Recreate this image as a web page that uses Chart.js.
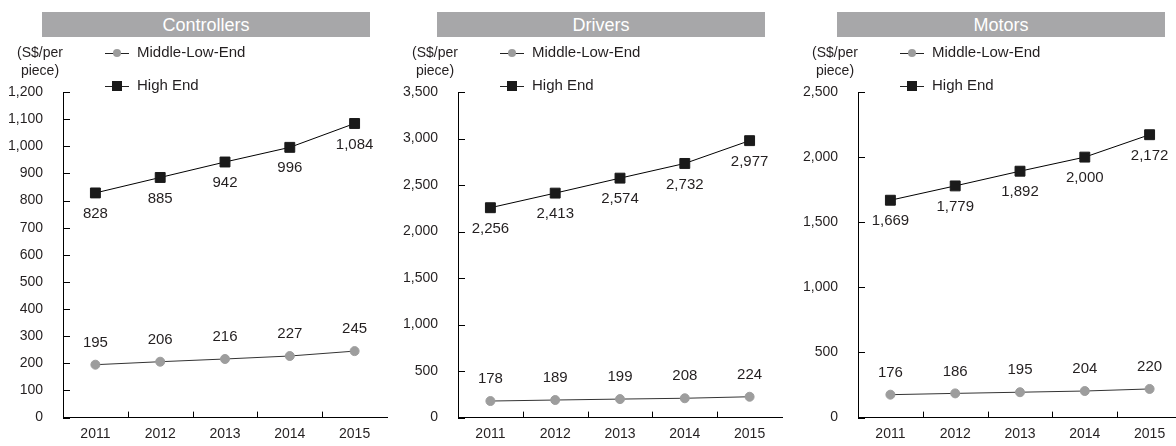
<!DOCTYPE html>
<html>
<head>
<meta charset="utf-8">
<script src="https://cdn.jsdelivr.net/npm/chart.js@4"></script>
<style>
  body { margin: 0; width: 1176px; height: 446px; overflow: hidden; background: #fff; position: relative;
         font-family: "Liberation Sans", Arial, sans-serif; color: #231f20; }
  .panel { position: absolute; top: 0; width: 395px; height: 446px; }
  .panel canvas { position: absolute; left: 0; top: 0; }
  .bar { position: absolute; left: 42px; top: 12px; width: 328px; height: 25px; background: #a7a7a9;
         color: #fff; font-size: 18px; line-height: 26px; text-align: center; }
  .unit { position: absolute; left: 8px; top: 43px; width: 64px; text-align: center; font-size: 14px; line-height: 18px; }
  .leg { position: absolute; left: 105px; font-size: 15px; line-height: 18px; white-space: nowrap; }
  .leg .sw { display: inline-block; position: relative; width: 24px; height: 1px; background: #222;
             vertical-align: middle; margin-right: 8px; }
  .leg .sw i { position: absolute; left: 8px; top: -4px; width: 8px; height: 8px; }
  .leg .mid i { background: #9d9d9d; border-radius: 50%; }
  .leg .high i { left: 7px; top: -5px; width: 10px; height: 10px; background: #1a1a1a; }
</style>
</head>
<body>
<script>
const years = ['2011', '2012', '2013', '2014', '2015'];
const seriesNames = ['Middle-Low-End', 'High End'];

const controllersMid = [195, 206, 216, 227, 245];
const controllersHigh = [828, 885, 942, 996, 1084];
const driversMid = [178, 189, 199, 208, 224];
const driversHigh = [2256, 2413, 2574, 2732, 2977];
const motorsMid = [176, 186, 195, 204, 220];
const motorsHigh = [1669, 1779, 1892, 2000, 2172];

const titles = ['Controllers', 'Drivers', 'Motors'];
const midSeries = [controllersMid, driversMid, motorsMid];
const highSeries = [controllersHigh, driversHigh, motorsHigh];
const yMax = [1200, 3500, 2500];
const yStep = [100, 500, 500];
const panelLeft = [0, 395, 795];

// inward tick marks + value labels
const extras = {
  id: 'extras',
  afterDatasetsDraw(chart) {
    const ctx = chart.ctx;
    const xs = chart.scales.x, ys = chart.scales.y;
    ctx.save();
    ctx.strokeStyle = '#000';
    ctx.lineWidth = 1;
    ctx.beginPath();
    ys.ticks.forEach(t => {
      const py = Math.round(ys.getPixelForValue(t.value)) + 0.5;
      ctx.moveTo(xs.left, py);
      ctx.lineTo(xs.left + 7, py);
    });
    for (let i = 1; i < years.length; i++) {
      const px = Math.round((xs.getPixelForValue(i - 1) + xs.getPixelForValue(i)) / 2) + 0.5;
      ctx.moveTo(px, ys.bottom);
      ctx.lineTo(px, ys.bottom - 6);
    }
    ctx.stroke();

    ctx.font = '15px "Liberation Sans", Arial, sans-serif';
    ctx.fillStyle = '#231f20';
    ctx.textAlign = 'center';
    ctx.textBaseline = 'middle';
    chart.data.datasets.forEach((ds, di) => {
      chart.getDatasetMeta(di).data.forEach((pt, i) => {
        const off = di === 0 ? -22 : 21;
        ctx.fillText(ds.data[i].toLocaleString('en-US'), pt.x, pt.y + off);
      });
    });
    ctx.restore();
  }
};

titles.forEach((title, p) => {
  const div = document.createElement('div');
  div.className = 'panel';
  div.style.left = panelLeft[p] + 'px';
  div.innerHTML =
    '<canvas width="395" height="446"></canvas>' +
    '<div class="bar">' + title + '</div>' +
    '<div class="unit">(S$/per<br>piece)</div>' +
    '<div class="leg" style="top:43px"><span class="sw mid"><i></i></span>' + seriesNames[0] + '</div>' +
    '<div class="leg" style="top:76px"><span class="sw high"><i></i></span>' + seriesNames[1] + '</div>';
  document.body.appendChild(div);

  new Chart(div.querySelector('canvas').getContext('2d'), {
    type: 'line',
    data: {
      labels: years,
      datasets: [{
        label: seriesNames[0],
        data: midSeries[p],
        borderColor: '#333',
        borderWidth: 1,
        pointStyle: 'circle',
        pointRadius: 4.5,
        pointBackgroundColor: '#9d9d9d',
        pointBorderColor: '#9d9d9d',
        tension: 0
      }, {
        label: seriesNames[1],
        data: highSeries[p],
        borderColor: '#000',
        borderWidth: 1,
        pointStyle: 'rect',
        pointRadius: 7,
        pointBackgroundColor: '#1a1a1a',
        pointBorderColor: '#1a1a1a',
        tension: 0
      }]
    },
    options: {
      responsive: false,
      animation: false,
      layout: { padding: { top: 92, right: 1, bottom: 0, left: 0 } },
      plugins: { legend: { display: false }, tooltip: { enabled: false } },
      scales: {
        x: {
          offset: true,
          grid: { display: false, drawTicks: false },
          border: { color: '#000' },
          ticks: { color: '#231f20', font: { family: '"Liberation Sans", Arial', size: 14 }, padding: 8 },
          afterFit(s) { s.height = 25; }
        },
        y: {
          min: 0,
          max: yMax[p],
          grid: { display: false, drawTicks: false },
          border: { color: '#000' },
          ticks: {
            stepSize: yStep[p],
            color: '#231f20',
            font: { family: '"Liberation Sans", Arial', size: 14 },
            padding: 20,
            callback: v => v.toLocaleString('en-US')
          },
          afterFit(s) { s.width = 63; }
        }
      }
    },
    plugins: [extras]
  });
});
</script>
</body>
</html>
